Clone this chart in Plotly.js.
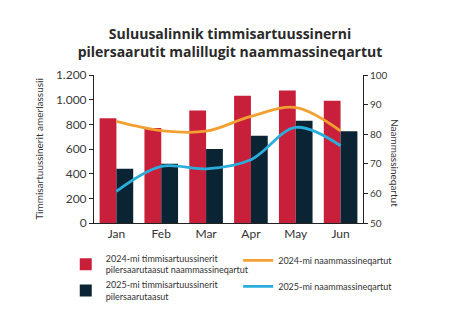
<!DOCTYPE html>
<html>
<head>
<meta charset="utf-8">
<script src="https://cdn.plot.ly/plotly-3.0.1.min.js"></script>
<style>html,body{margin:0;padding:0;background:#fff;}#chart{width:460px;height:322px;}</style>
</head>
<body>
<div id="chart"></div>
<script>
var months = ["Jan", "Feb", "Mar", "Apr", "May", "Jun"];
var planned2024 = [850, 770, 913, 1032, 1075, 992];
var planned2025 = [440, 481, 600, 708, 830, 743];
var completed2024 = [84.3, 81.2, 81.0, 86.0, 89.0, 81.1];
var completed2025 = [60.7, 69.1, 68.3, 71.4, 82.3, 76.1];
var seriesNames = [
  "2024-mi timmisartuussinerit<br>pilersaarutaasut naammassineqartut",
  "2024-mi naammassineqartut",
  "2025-mi timmisartuussinerit<br>pilersaarutaasut",
  "2025-mi naammassineqartut"
];
var leftTicks = [0, 200, 400, 600, 800, 1000, 1200];
var rightTicks = [50, 60, 70, 80, 90, 100];

var fontMain = "Lato, 'Open Sans', sans-serif";
var traces = [
  {type: "bar", x: months, y: planned2024, name: seriesNames[0], marker: {color: "#C8203A"}, yaxis: "y",
   legend: "legend", legendgroup: "a"},
  {type: "scatter", mode: "lines", x: months, y: completed2024, name: seriesNames[1], yaxis: "y2",
   line: {color: "#F3A032", width: 2.8, shape: "spline", smoothing: 1}, legend: "legend2", legendgroup: "c"},
  {type: "bar", x: months, y: planned2025, name: seriesNames[2], marker: {color: "#0B2434"}, yaxis: "y",
   legend: "legend", legendgroup: "b"},
  {type: "scatter", mode: "lines", x: months, y: completed2025, name: seriesNames[3], yaxis: "y2",
   line: {color: "#2AAEDC", width: 2.8, shape: "spline", smoothing: 1}, legend: "legend2", legendgroup: "d"}
];

var legendCommon = {
  orientation: "v", xanchor: "left", yanchor: "top", traceorder: "grouped",
  font: {size: 9, color: "#333"}, itemwidth: 30, bgcolor: "rgba(0,0,0,0)", valign: "middle"
};

var layout = {
  width: 460, height: 322,
  margin: {l: 94, r: 97, t: 75, b: 99, autoexpand: false},
  paper_bgcolor: "#fff", plot_bgcolor: "#fff",
  separators: ",.",
  font: {family: fontMain, color: "#333", size: 11},
  title: {
    text: "<b>Suluusalinnik timmisartuussinerni<br>pilersaarutit malillugit naammassineqartut</b>",
    x: 0.5, xanchor: "center", xref: "container",
    y: 0.88, yanchor: "middle", yref: "container",
    font: {family: "'Open Sans', sans-serif", size: 14, color: "#2a2a2a"}
  },
  barmode: "group", bargap: 0.25, bargroupgap: 0,
  xaxis: {
    type: "category", showgrid: false, showline: true, linecolor: "#222", linewidth: 1,
    ticks: "", tickfont: {size: 12, color: "#333"}, zeroline: false
  },
  yaxis: {
    range: [0, 1200], tickvals: leftTicks, separatethousands: true, tickformat: ",d",
    showgrid: false, zeroline: false, showline: true, linecolor: "#222", linewidth: 1,
    ticks: "outside", ticklen: 4, tickcolor: "#222", tickfont: {size: 12, color: "#3a3a3a"},
    title: {text: "Timmisartuussinerit amerlassusii", font: {size: 10, color: "#333"}, standoff: 10}
  },
  yaxis2: {
    range: [50, 100], tickvals: rightTicks, overlaying: "y", side: "right",
    showgrid: false, zeroline: false, showline: true, linecolor: "#222", linewidth: 1,
    ticks: "outside", ticklen: 4, tickcolor: "#222", tickfont: {size: 10, color: "#3a3a3a"}
  },
  annotations: [{
    text: "Naammassineqartut", textangle: 90, xref: "paper", yref: "paper",
    x: 1.118, y: 0.407, xanchor: "center", yanchor: "middle", showarrow: false,
    font: {size: 10, color: "#333"}
  }],
  showlegend: true,
  legend: Object.assign({}, legendCommon, {x: -0.105, y: -0.155, tracegroupgap: 0}),
  legend2: Object.assign({}, legendCommon, {x: 0.536, y: -0.155, tracegroupgap: 7})
};

Plotly.newPlot("chart", traces, layout, {displayModeBar: false, staticPlot: true});
</script>
</body>
</html>
